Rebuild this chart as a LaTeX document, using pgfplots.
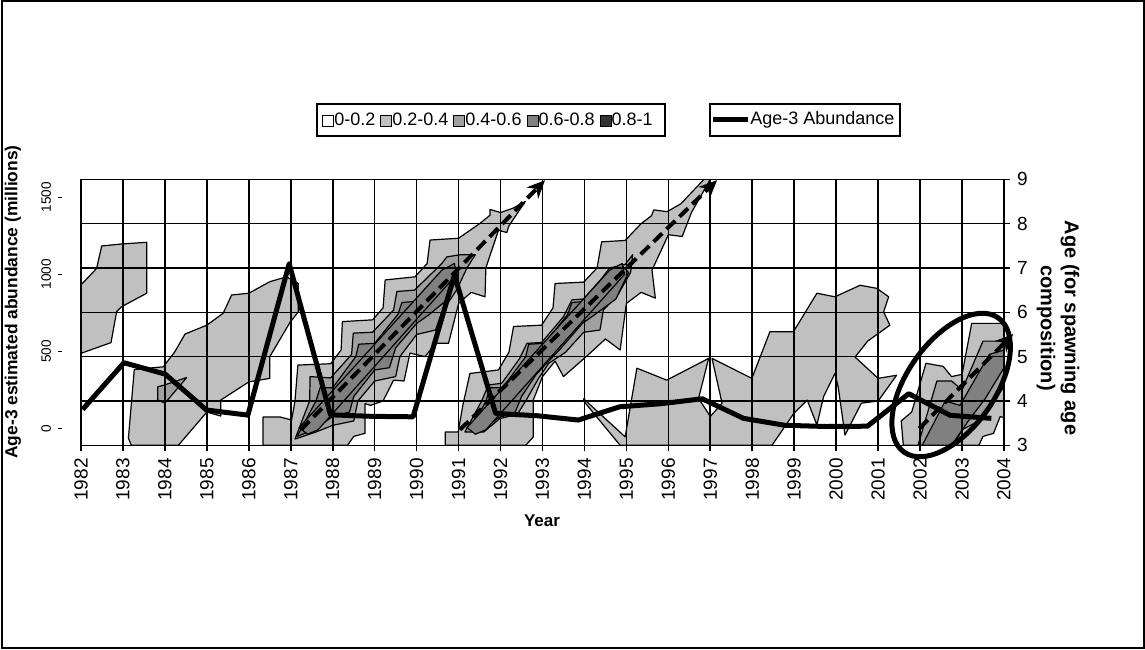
\documentclass[border=0pt]{standalone}
\usepackage{pgfplots}
\pgfplotsset{compat=1.18}
\usepackage{fontspec}
\setmainfont{Liberation Sans}
\usetikzlibrary{arrows.meta}
\definecolor{lev1}{HTML}{C0C0C0}
\definecolor{lev2}{HTML}{A0A0A0}
\definecolor{lev3}{HTML}{808080}
\definecolor{lev4}{HTML}{333333}
\pgfplotsset{poly/.style={draw=black, line width=0.6pt, line join=round}}
\newcommand{\legsq}[1]{{\setlength{\fboxsep}{0pt}\setlength{\fboxrule}{0.5pt}\fcolorbox{black}{#1}{\rule{0pt}{5pt}\hspace{5pt}}}}
\begin{document}
\begin{tikzpicture}[x=0.5pt,y=0.5pt]
\useasboundingbox (0,0) rectangle (1145,649);
\draw[line width=1pt] (1.5,1.5) rectangle (1143.5,647.5);

% ---------- contour areas ----------
\begin{axis}[at={(40.5pt,101.85pt)}, anchor=south west, scale only axis,
  width=461.5pt, height=133pt,
  xmin=1982, xmax=2004, ymin=3, ymax=9,
  xtick={1982,...,2004}, ytick={3,...,9},
  xtick pos=bottom, ytick pos=right, yticklabel pos=right,
  tick align=outside, major tick length=3pt,
  grid=major, major grid style={black, line width=0.8pt},
  axis line style={black, line width=0.8pt},
  tick style={black, line width=0.8pt},
  xticklabel style={rotate=90, anchor=east, font=\fontsize{9.5}{10}\selectfont},
  yticklabel style={anchor=west, font=\fontsize{9.5}{10}\selectfont},
  /pgf/number format/1000 sep={},
  /pgf/number format/assume math mode=true,
  axis on top]
% level 0.2-0.4
\addplot[poly, fill=lev1] coordinates {(1982.0,6.617) (1982.373,6.992) (1982.493,7.496) (1982.969,7.541) (1983.565,7.579) (1983.565,6.429) (1982.969,6.128) (1982.85,6.015) (1982.715,5.316) (1982.0,5.075)} -- cycle;
\addplot[poly, fill=lev1] coordinates {(1983.13,3.16) (1983.27,4.71) (1983.96,4.77) (1984.23,5.1) (1984.48,5.51) (1985.0,5.71) (1985.39,5.98) (1985.59,6.39) (1986.0,6.43) (1986.5,6.69) (1986.9,6.8) (1987.18,6.65) (1987.18,6.01) (1986.98,5.77) (1986.5,5.0) (1986.5,4.51) (1986.0,4.43) (1985.33,4.02) (1985.33,3.66) (1985.0,3.75) (1984.32,3.0) (1983.2,3.0)} -- cycle;
\addplot[poly, fill=lev1] coordinates {(1986.34,3.0) (1986.34,3.64) (1986.74,3.64) (1987.02,3.57) (1987.1,4.0) (1987.17,4.81) (1987.95,4.84) (1988.2,5.15) (1988.23,5.79) (1988.95,5.83) (1989.2,6.1) (1989.25,6.73) (1989.96,6.8) (1990.25,7.1) (1990.32,7.63) (1991.0,7.67) (1991.5,8.0) (1991.75,8.19) (1991.75,8.32) (1992.0,8.25) (1992.3,8.35) (1992.59,8.5) (1992.2,7.95) (1992.15,7.8) (1991.95,7.85) (1991.65,7.0) (1991.63,6.35) (1991.3,6.45) (1991.0,6.2) (1990.76,5.3) (1990.45,5.3) (1990.2,5.0) (1989.84,5.08) (1989.7,4.45) (1989.45,4.47) (1989.2,4.0) (1988.9,3.9) (1988.77,3.94) (1988.77,3.27) (1988.5,3.2) (1988.35,3.0)} -- cycle;
\addplot[poly, fill=lev1] coordinates {(1990.68,3.0) (1990.68,3.3) (1990.99,3.3) (1991.1,3.9) (1991.27,4.62) (1991.95,4.70) (1992.2,5.1) (1992.31,5.68) (1992.98,5.71) (1993.25,6.1) (1993.30,6.65) (1993.98,6.68) (1994.3,7.0) (1994.41,7.59) (1994.97,7.62) (1995.35,8.0) (1995.6,8.18) (1995.65,8.31) (1995.97,8.27) (1996.3,8.45) (1996.85,9.0) (1997.0,9.0) (1996.55,8.25) (1996.33,7.71) (1996.0,7.75) (1995.61,6.95) (1995.69,6.32) (1995.35,6.45) (1995.0,6.2) (1994.85,5.15) (1994.5,5.4) (1994.1,5.05) (1993.5,4.55) (1993.3,4.9) (1993.0,4.55) (1992.78,4.02) (1992.78,3.19) (1992.6,3.0)} -- cycle;
\addplot[poly, fill=lev1] coordinates {(1993.98,4.05) (1994.97,3.19) (1995.25,4.74) (1995.96,4.47) (1996.96,4.96) (1996.72,4.06) (1997.0,3.65) (1997.28,3.95) (1997.04,4.96) (1997.99,4.51) (1998.42,5.56) (1998.98,5.56) (1999.54,6.43) (1999.97,6.35) (2000.57,6.61) (2000.97,6.54) (2001.25,6.35) (2001.13,6.01) (2001.28,5.71) (2000.75,5.35) (2000.45,4.99) (2001.0,4.51) (2001.44,4.58) (2001.0,4.0) (2000.6,3.95) (2000.21,3.23) (2000.05,4.3) (1999.97,4.62) (1999.7,4.1) (1999.54,3.46) (1999.31,4.02) (1998.99,3.72) (1998.47,3.0) (1994.85,3.0) (1993.98,4.0)} -- cycle;
\addplot[poly, fill=lev1] coordinates {(2001.6,3.0) (2001.55,3.55) (2001.8,3.75) (2002.14,4.85) (2002.55,4.78) (2002.75,4.55) (2003.0,4.6) (2003.23,5.75) (2004.0,5.75) (2004.0,3.62) (2003.91,3.65) (2003.75,3.27) (2003.5,3.2) (2003.4,3.0)} -- cycle;
% level 0.4-0.6
\addplot[poly, fill=lev2] coordinates {(1983.83,4.32) (1983.99,4.36) (1984.52,4.53) (1984.0,3.95) (1983.83,4.02)} -- cycle;
\addplot[poly, fill=lev2] coordinates {(1987.1,3.14) (1987.45,4.0) (1987.46,4.55) (1987.95,4.52) (1988.45,5.05) (1988.49,5.53) (1988.95,5.55) (1989.45,6.05) (1989.53,6.47) (1989.95,6.5) (1990.6,7.1) (1990.72,7.25) (1991.05,7.3) (1991.4,7.3) (1991.2,7.0) (1990.95,6.5) (1990.6,6.0) (1990.45,5.6) (1990.0,5.5) (1989.6,5.0) (1989.5,4.55) (1989.0,4.45) (1988.6,4.0) (1988.5,3.55) (1988.0,3.45) (1987.6,3.3)} -- cycle;
\addplot[poly, fill=lev2] coordinates {(1991.15,3.3) (1991.55,4.0) (1991.71,4.36) (1992.03,4.4) (1992.45,4.95) (1992.63,5.3) (1992.98,5.32) (1993.5,5.9) (1993.70,6.28) (1993.98,6.30) (1994.4,6.75) (1994.6,7.0) (1994.97,7.08) (1995.15,7.3) (1995.1,6.9) (1994.8,6.4) (1994.45,6.05) (1994.37,5.6) (1993.98,5.55) (1993.55,5.1) (1993.15,4.85) (1992.9,4.5) (1992.6,4.0) (1992.4,3.7) (1991.98,3.6) (1991.6,3.3)} -- cycle;
\addplot[poly, fill=lev2] coordinates {(2001.95,3.0) (2002.4,4.45) (2002.75,4.45) (2003.0,4.25) (2003.5,5.35) (2004.0,5.35) (2004.0,4.3) (2003.75,4.05) (2003.5,3.6) (2003.0,3.35) (2002.8,3.0)} -- cycle;
% level 0.6-0.8
\addplot[poly, fill=lev3] coordinates {(1987.15,3.2) (1987.6,4.0) (1987.7,4.3) (1988.0,4.3) (1988.55,5.0) (1988.62,5.28) (1989.0,5.3) (1989.55,5.95) (1989.65,6.22) (1990.0,6.25) (1990.5,6.8) (1990.85,7.05) (1991.0,6.9) (1990.75,6.3) (1990.3,5.95) (1990.0,5.75) (1989.5,5.2) (1989.35,4.75) (1989.0,4.7) (1988.5,4.1) (1988.4,3.75) (1988.0,3.65) (1987.55,3.35)} -- cycle;
\addplot[poly, fill=lev3] coordinates {(1991.3,3.35) (1991.65,4.0) (1991.75,4.3) (1992.05,4.3) (1992.6,5.0) (1992.67,5.28) (1993.05,5.3) (1993.6,5.95) (1993.7,6.22) (1994.05,6.25) (1994.55,6.8) (1994.9,7.05) (1995.05,6.9) (1994.75,6.3) (1994.25,5.95) (1993.95,5.75) (1993.45,5.2) (1993.0,4.75) (1992.85,4.6) (1992.5,4.1) (1992.35,3.75) (1991.95,3.62) (1991.55,3.35)} -- cycle;
\addplot[poly, fill=lev3] coordinates {(1987.2,3.4) (1990.6,6.95) (1990.9,7.1) (1990.95,6.85) (1987.65,3.35) (1987.4,3.25)} -- cycle;
\addplot[poly, fill=lev3] coordinates {(1991.2,3.4) (1994.6,6.95) (1994.9,7.1) (1994.95,6.85) (1991.65,3.35) (1991.4,3.25)} -- cycle;
\addplot[poly, fill=lev3] coordinates {(2002.05,3.0) (2002.6,4.0) (2002.95,3.9) (2003.65,5.05) (2004.0,5.15) (2004.0,4.75) (2003.55,4.05) (2003.15,3.55) (2002.75,3.0)} -- cycle;
\end{axis}

% ---------- arrows and ellipse ----------
\begin{axis}[at={(40.5pt,101.85pt)}, anchor=south west, scale only axis,
  width=461.5pt, height=133pt,
  xmin=1982, xmax=2004, ymin=3, ymax=9, hide axis, clip=false]
\addplot[black, line width=2pt, dash pattern=on 6pt off 3pt, -{Stealth[length=9pt,width=8pt]}] coordinates {(1987.24,3.35) (1993.06,8.98)};
\addplot[black, line width=2pt, dash pattern=on 6pt off 3pt, -{Stealth[length=9pt,width=8pt]}] coordinates {(1991.03,3.35) (1997.16,8.98)};
\addplot[black, line width=2pt, dash pattern=on 6pt off 3pt, -{Stealth[length=9pt,width=8pt]}] coordinates {(2001.98,3.38) (2004.22,5.51)};
\draw[black, line width=2.5pt] (axis cs:2002.74,4.36) ellipse [x radius=41pt, y radius=22pt, rotate=55];
\end{axis}

% ---------- Age-3 abundance line ----------
\begin{axis}[at={(31pt,101.85pt)}, anchor=south west, scale only axis,
  width=475pt, height=133pt,
  xmin=1981.5, xmax=2004.5, ymin=-110, ymax=1617,
  axis x line=none, axis y line*=left, y axis line style={draw=none},
  ytick={0,500,1000,1500}, tick align=outside, major tick length=2pt,
  tick style={black, line width=0.6pt},
  yticklabel style={rotate=90, anchor=south, font=\fontsize{6.8}{8}\selectfont},
  /pgf/number format/1000 sep={},
  /pgf/number format/assume math mode=true,
  clip=false]
\addplot[black, line width=2.5pt, line join=round] coordinates {
(1982,123) (1983,426) (1984,352) (1985,119) (1986,86) (1987,1069) (1988,88) (1989,78) (1990,75) (1991,995) (1992,97) (1993,82) (1994,54) (1995,140) (1996,160) (1997,192) (1998,65) (1999,20) (2000,12) (2001,14) (2002,225) (2003,85) (2004,65)};
\end{axis}

% ---------- titles ----------
\node[rotate=90, font=\bfseries\fontsize{8.7}{10}\selectfont] at (13,347) {Age-3 estimated abundance (millions)};
\node[rotate=-90, align=center, font=\bfseries\fontsize{10}{12}\selectfont] at (1058,321) {Age (for spawning age\\composition)};
\node[font=\bfseries\fontsize{8.5}{10}\selectfont] at (542,128) {Year};

% ---------- legends ----------
\draw[line width=0.6pt] (317,513) rectangle (665,545);
\node[anchor=west, inner sep=0pt, font=\fontsize{9}{11}\selectfont] at (322,529) {\legsq{white}0-0.2 \legsq{lev1}0.2-0.4 \legsq{lev2}0.4-0.6 \legsq{lev3}0.6-0.8 \legsq{lev4}0.8-1};
\draw[line width=0.6pt] (710,513) rectangle (900,545);
\draw[line width=2.5pt] (713,529) -- (748,529);
\node[anchor=west, inner sep=0pt, font=\fontsize{9}{11}\selectfont] at (750,529) {Age-3 Abundance};
\end{tikzpicture}
\end{document}
